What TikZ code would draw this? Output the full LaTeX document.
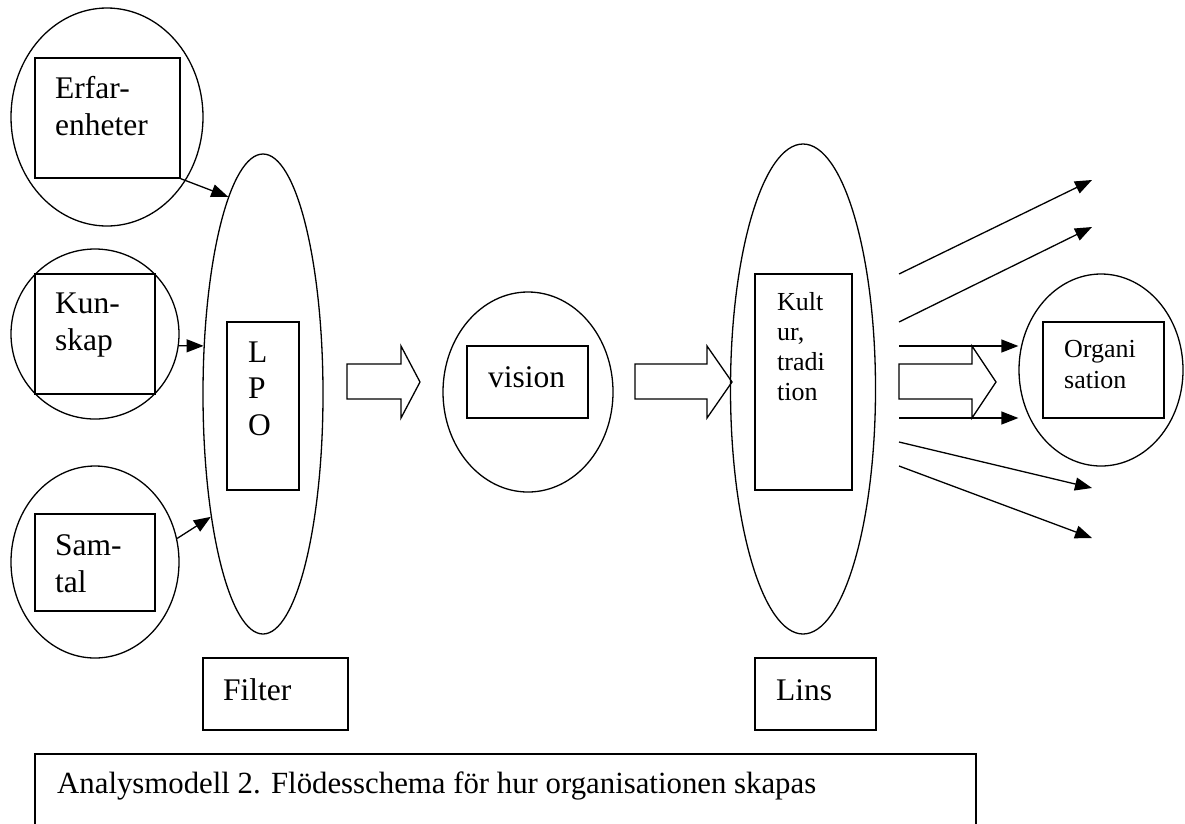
\documentclass[tikz,border=0pt]{standalone}
\usepackage{fontspec}
\setmainfont{Liberation Serif}
\usetikzlibrary{shapes.geometric,arrows.meta}
\begin{document}
\begin{tikzpicture}[x=1pt,y=-1pt,
  lw/.style={line width=1.3pt},
  oval/.style={draw,lw,ellipse,inner sep=0pt},
  box/.style={draw,lw,rectangle,inner sep=0pt},
  big/.style={font=\fontsize{31.5}{37}\selectfont,anchor=base west,inner sep=0pt,align=left},
  small/.style={font=\fontsize{26}{30}\selectfont,anchor=base west,inner sep=0pt,align=left},
  arr/.style={lw,-{Triangle[length=17pt,width=13pt]}},
  blockarrow/.style={draw,lw,line join=miter}
]
\useasboundingbox (0,0) rectangle (1185,823);

% ovals
\node[oval,minimum width=192pt,minimum height=218pt] (erfc) at (107,117) {};
\node[oval,minimum width=168pt,minimum height=170pt] (kunc) at (95,334) {};
\node[oval,minimum width=168pt,minimum height=192pt] (samc) at (95,562) {};
\node[oval,minimum width=120pt,minimum height=480pt] (lpo) at (263,394) {};
\node[oval,minimum width=170pt,minimum height=200pt] (visc) at (528,392) {};
\node[oval,minimum width=145pt,minimum height=490pt] (kul) at (803,389) {};
\node[oval,minimum width=164pt,minimum height=192pt] (orgc) at (1101,370) {};

% boxes
\node[box,minimum width=145pt,minimum height=120pt] (erfbox) at (107.5,118) {};
\node[box,minimum width=120pt,minimum height=120pt] (kunbox) at (95,334) {};
\node[box,minimum width=120pt,minimum height=97pt] (sambox) at (95,562.5) {};
\node[box,minimum width=72pt,minimum height=168pt] (lpobox) at (263,406) {};
\node[box,minimum width=121pt,minimum height=72pt] (visbox) at (527.5,382) {};
\node[box,minimum width=97pt,minimum height=216pt] (kulbox) at (803.5,382) {};
\node[box,minimum width=121pt,minimum height=96pt] (orgbox) at (1103.5,370) {};
\node[box,minimum width=145pt,minimum height=72pt] (filterbox) at (275.5,694) {};
\node[box,minimum width=121pt,minimum height=72pt] (linsbox) at (815.5,694) {};
\node[box,minimum width=941pt,minimum height=96pt] (capbox) at (505.5,802) {};

% texts (multi-line nodes anchored at the baseline of their last line)
\node[big] (terf) at (55,135) {Erfar-\\enheter};
\node[big] (tkun) at (55,350) {Kun-\\skap};
\node[big] (tsam) at (55,592) {Sam-\\tal};
\node[big,font=\fontsize{31.5}{36.5}\selectfont] (tlpo) at (248,435) {L\\P\\O};
\node[big] (tvis) at (488,387) {vision};
\node[small] (tkul) at (777,400) {Kult\\ur,\\tradi\\tion};
\node[small,font=\fontsize{26}{31}\selectfont] (torg) at (1064,388) {Organi\\sation};
\node[big] (tfil) at (223,700) {Filter};
\node[big] (tlin) at (776,700) {Lins};
\node[big,font=\fontsize{30.8}{36}\selectfont] (tcap) at (57,793) {Analysmodell 2. Flödesschema för hur organisationen skapas};

% input arrows
\draw[arr] (erfbox.south east) -- (lpo.100.6);
\draw[arr] (kunc.-8) -- (lpo.141.5);
\draw[arr] (samc.16.5) -- (lpo.-113.3);

% block arrows
\draw[blockarrow] (347,364) -- (401,364) -- (401,346) -- (420,382) -- (401,418) -- (401,399) -- (347,399) -- cycle;
\draw[blockarrow] (635,364) -- (707,364) -- (707,346) -- (732,382) -- (707,418) -- (707,399) -- (635,399) -- cycle;
\draw[blockarrow] (899,364) -- (972,364) -- (972,346) -- (996,382) -- (972,418) -- (972,399) -- (899,399) -- cycle;

% output arrows
\coordinate (a1) at (899,274); \coordinate (a2) at (1092,180);
\coordinate (b1) at (899,322); \coordinate (b2) at (1092,227);
\coordinate (c1) at (899,346);
\coordinate (d1) at (899,418);
\coordinate (e1) at (899,442); \coordinate (e2) at (1092,488);
\coordinate (f1) at (899,466); \coordinate (f2) at (1092,538);
\draw[arr] (a1) -- (a2);
\draw[arr] (b1) -- (b2);
\draw[arr] (c1) -- (c1 -| orgc.west);
\draw[arr] (d1) -- (d1 -| orgc.west);
\draw[arr] (e1) -- (e2);
\draw[arr] (f1) -- (f2);
\end{tikzpicture}
\end{document}
